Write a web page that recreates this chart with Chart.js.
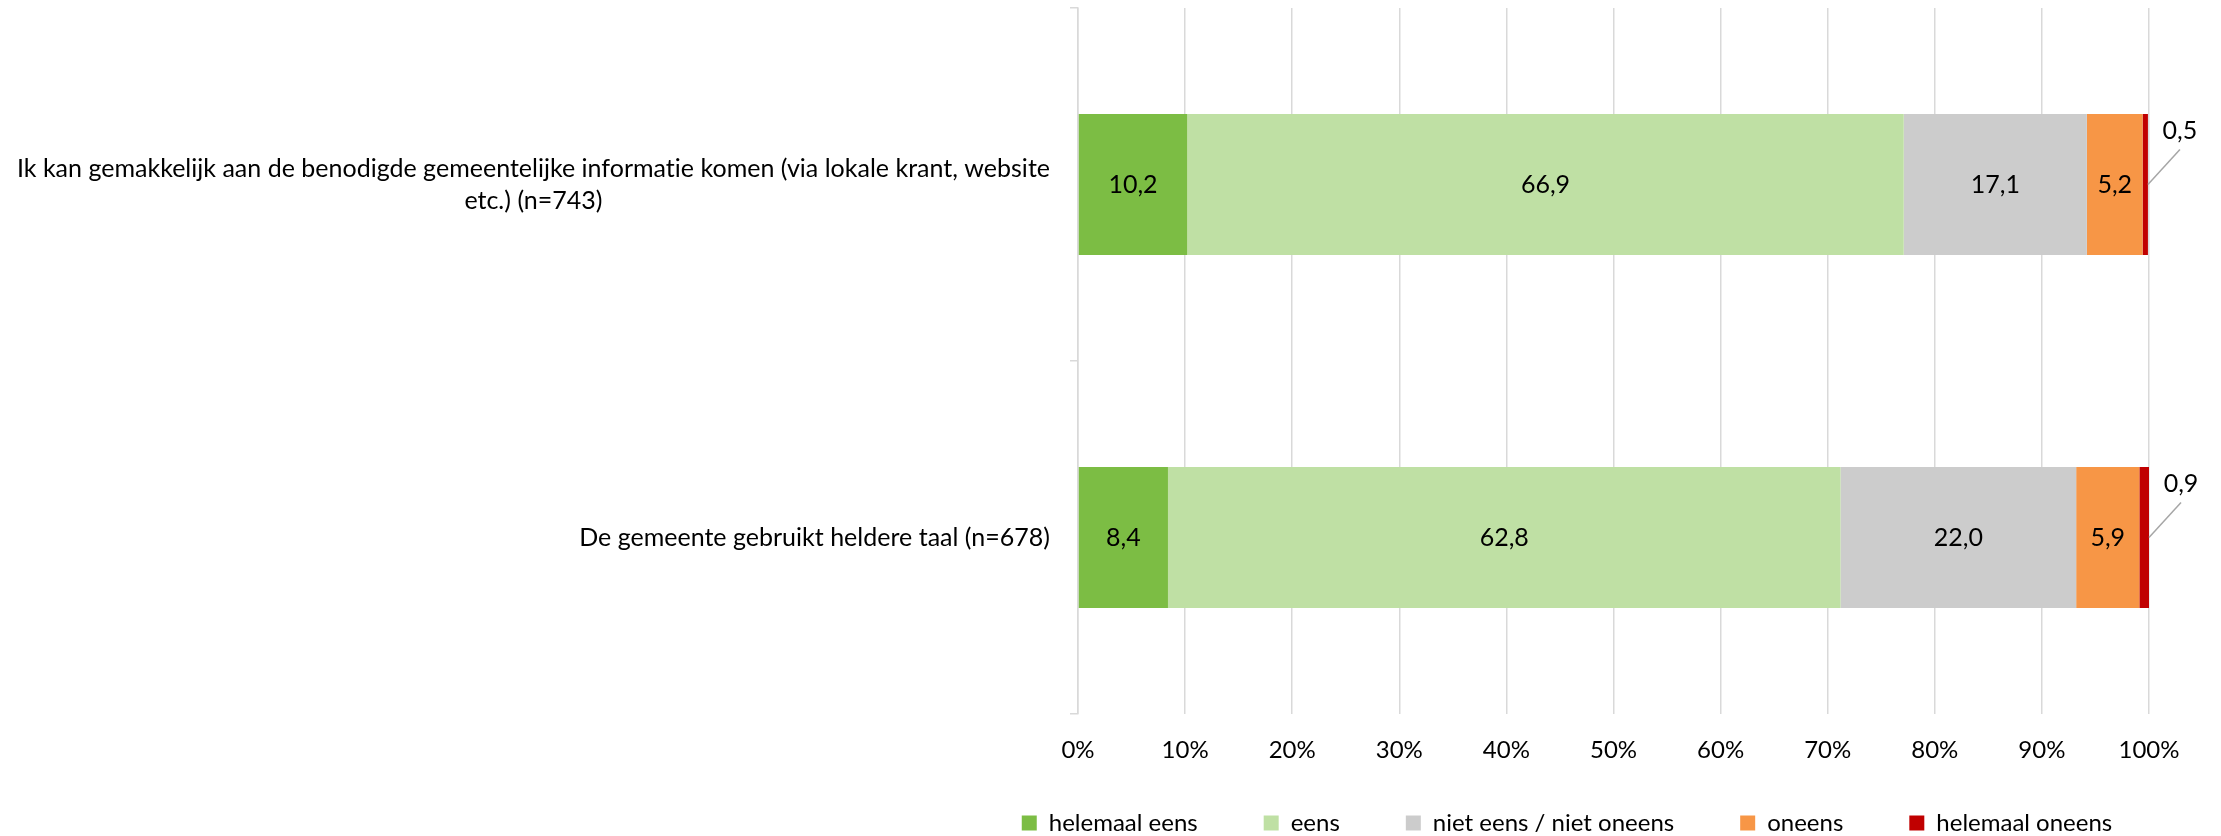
<!DOCTYPE html>
<html>
<head>
<meta charset="utf-8">
<script src="https://cdn.jsdelivr.net/npm/chart.js@4.4.1/dist/chart.umd.min.js"></script>
<style>
  html, body { margin: 0; padding: 0; background: #fff; }
  #wrap { width: 2221px; height: 836px; }
</style>
</head>
<body>
<div id="wrap"><canvas id="chart" width="2221" height="836"></canvas></div>
<script>
// statements (y categories), multi-line labels as arrays
const categories = [
  ['Ik kan gemakkelijk aan de benodigde gemeentelijke informatie komen (via lokale krant, website', 'etc.) (n=743)'],
  ['De gemeente gebruikt heldere taal (n=678)']
];
const seriesNames = ['helemaal eens', 'eens', 'niet eens / niet oneens', 'oneens', 'helemaal oneens'];
const helemaalEens = [10.2, 8.4];
const eens = [66.9, 62.8];
const neutraal = [17.1, 22.0];
const oneens = [5.2, 5.9];
const helemaalOneens = [0.5, 0.9];
const xTicks = [0, 10, 20, 30, 40, 50, 60, 70, 80, 90, 100];

const colors = ['#7cbd44', '#bfe0a4', '#cccccc', '#f79646', '#c00000'];
const FONT = 'Lato, "Open Sans", sans-serif';
const gridColor = '#d9d9d9';

const fmt = v => v.toFixed(1).replace('.', ',');

// draws value labels in segments + leader line for the tiny last segment
const valueLabels = {
  id: 'valueLabels',
  afterDatasetsDraw(chart) {
    const ctx = chart.ctx;
    ctx.save();
    ctx.font = '25px ' + FONT;
    ctx.fillStyle = '#000';
    ctx.textAlign = 'center';
    ctx.textBaseline = 'middle';
    const last = chart.data.datasets.length - 1;
    chart.data.datasets.forEach((ds, di) => {
      const meta = chart.getDatasetMeta(di);
      meta.data.forEach((bar, i) => {
        const txt = fmt(ds.data[i]);
        if (di === last) {
          // leader line out to the upper right
          ctx.strokeStyle = '#a6a6a6';
          ctx.lineWidth = 1.5;
          ctx.beginPath();
          ctx.moveTo(bar.x, bar.y);
          ctx.lineTo(bar.x + 32, bar.y - 35);
          ctx.stroke();
          ctx.fillText(txt, bar.x + 32, bar.y - 54);
        } else {
          ctx.fillText(txt, (bar.x + bar.base) / 2, bar.y);
        }
      });
    });
    ctx.restore();
  }
};

// category labels: block right-aligned next to the axis, lines centred inside block
const catLabels = {
  id: 'catLabels',
  afterDraw(chart) {
    const ctx = chart.ctx;
    const yScale = chart.scales.y;
    const right = chart.chartArea.left - 28;
    const lh = 32;
    ctx.save();
    ctx.font = '25px ' + FONT;
    ctx.letterSpacing = '0.01px'; // stops the "ti" ligature
    ctx.fillStyle = '#000';
    ctx.textAlign = 'center';
    ctx.textBaseline = 'middle';
    categories.forEach((lines, i) => {
      const w = Math.max(...lines.map(l => ctx.measureText(l).width));
      const cx = right - w / 2;
      const cy = yScale.getPixelForValue(i);
      lines.forEach((l, k) => {
        ctx.fillText(l, cx, cy + (k - (lines.length - 1) / 2) * lh);
      });
    });
    ctx.restore();
  }
};

// legend: wide horizontal gaps but a short box, kept on one row
const legendFix = {
  id: 'legendFix',
  afterInit(chart) {
    const lg = chart.legend;
    const fit = lg.fit;
    lg.fit = function () {
      const mw = this.maxWidth;
      this.maxWidth = 2000;
      fit.call(this);
      this.maxWidth = mw;
      this.width = mw;
      this.height = 66;
    };
  },
  afterLayout(chart) {
    const lg = chart.legend;
    lg.left -= 60; lg.right += 60; lg.width = lg.right - lg.left;
    lg.top -= 25; lg.height = lg.bottom - lg.top;
  }
};

const arrays = [helemaalEens, eens, neutraal, oneens, helemaalOneens];

new Chart(document.getElementById('chart'), {
  type: 'bar',
  data: {
    labels: categories.map(c => c.join(' ')),
    datasets: arrays.map((arr, k) => ({
      label: seriesNames[k],
      data: arr,
      backgroundColor: colors[k],
      borderWidth: 0,
      barPercentage: 0.4,
      categoryPercentage: 1
    }))
  },
  options: {
    indexAxis: 'y',
    responsive: false,
    animation: false,
    layout: { padding: { top: 8, left: 985, right: 72, bottom: 0 } },
    scales: {
      x: {
        stacked: true,
        min: 0,
        max: 100,
        afterBuildTicks: s => { s.ticks = xTicks.map(v => ({ value: v })); },
        ticks: {
          callback: v => v + '%',
          font: { family: FONT, size: 24 },
          color: '#000',
          padding: 22
        },
        grid: { color: gridColor, lineWidth: 1.5, drawTicks: false },
        border: { display: false },
        afterFit: s => { s.height = 56; }
      },
      y: {
        stacked: true,
        ticks: { display: false },
        grid: { drawOnChartArea: false, color: gridColor, lineWidth: 1.5, tickLength: 8, offset: true },
        border: { display: true, color: gridColor, width: 1.5 },
        afterFit: s => { s.width = 93; }
      }
    },
    plugins: {
      legend: {
        position: 'bottom',
        labels: {
          boxWidth: 15,
          boxHeight: 15,
          padding: 66,
          color: '#000',
          font: { family: FONT, size: 24 }
        }
      },
      tooltip: { enabled: false }
    }
  },
  plugins: [valueLabels, catLabels, legendFix]
});
</script>
</body>
</html>
